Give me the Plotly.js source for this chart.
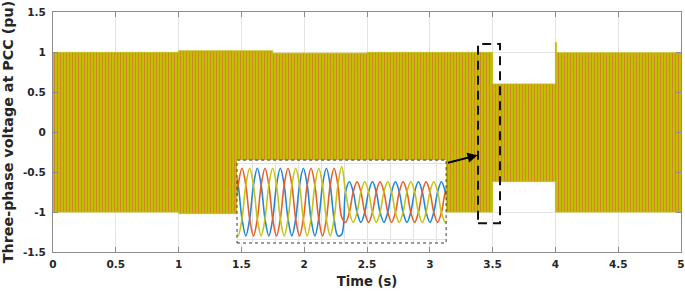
<!DOCTYPE html>
<html>
<head>
<meta charset="utf-8">
<script src="https://cdn.plot.ly/plotly-3.0.1.min.js"></script>
<style>html,body{margin:0;padding:0;background:#fff;}#chart{width:685px;height:295px;}</style>
</head>
<body>
<div id="chart"></div>
<script>
// ---- Main plot: envelope of the three-phase voltage (pu) ----
const envTime  = [0, 1, 1.75, 2.5, 3.5, 4, 4.008, 5];
const envUpper = [0.995, 1.015, 0.985, 0.995, 0.6, 1.12, 0.99, 0.99];
const envLower = [-1.0, -1.02, -0.99, -1.0, -0.62, -1.0, -1.0, -1.0];

// ---- Inset: zoom of the three phases around the sag (electrical angle, deg) ----
const insetAngle = [-120,-60,0,60,120,180,240,300,360,420,480,540,600,660,720,780,840,900,960,1020,1080,1140,1200,1260,1320,1380,1440,1500,1560,1620,1680,1740,1800,1860,1920,1980,2040,2100,2160,2220,2280,2340,2400,2460,2520,2580,2640,2700,2760,2820,2880,2940,3000,3060,3120,3180,3240];
const phaseOrange = [-0.5,0.5,1,0.5,-0.5,-1,-0.5,0.5,1,0.5,-0.5,-1,-0.5,0.5,1,0.5,-0.5,-1,-0.5,0.5,1,0.5,-0.5,-1,-0.5,0.5,1,0.5,-0.45,-0.6,-0.3,0.3,0.6,0.3,-0.3,-0.6,-0.3,0.3,0.6,0.3,-0.3,-0.6,-0.3,0.3,0.6,0.3,-0.3,-0.6,-0.3,0.3,0.6,0.3,-0.3,-0.6,-0.3,0.3,0.6];
const phaseYellow = [-0.5,-1,-0.5,0.5,1,0.5,-0.5,-1,-0.5,0.5,1,0.5,-0.5,-1,-0.5,0.5,1,0.5,-0.5,-1,-0.5,0.5,1,0.5,-0.5,-1,-0.5,0.5,1.05,0.3,-0.3,-0.6,-0.3,0.3,0.6,0.3,-0.3,-0.6,-0.3,0.3,0.6,0.3,-0.3,-0.6,-0.3,0.3,0.6,0.3,-0.3,-0.6,-0.3,0.3,0.6,0.3,-0.3,-0.6,-0.3];
const phaseBlue   = [1,0.5,-0.5,-1,-0.5,0.5,1,0.5,-0.5,-1,-0.5,0.5,1,0.5,-0.5,-1,-0.5,0.5,1,0.5,-0.5,-1,-0.5,0.5,1,0.5,-0.5,-1,-0.95,0.3,0.6,0.3,-0.3,-0.6,-0.3,0.3,0.6,0.3,-0.3,-0.6,-0.3,0.3,0.6,0.3,-0.3,-0.6,-0.3,0.3,0.6,0.3,-0.3,-0.6,-0.3,0.3,0.6,0.3,-0.3];

// Axis tick values
const xTicks = [0, 0.5, 1, 1.5, 2, 2.5, 3, 3.5, 4, 4.5, 5];
const yTicks = [-1.5, -1, -0.5, 0, 0.5, 1, 1.5];

const cOrange = '#e4602a', cYellow = '#c4c412', cBlue = '#2288d6';

const traces = [
  {x: envTime, y: envLower, type: 'scatter', mode: 'lines', line: {shape: 'hv', width: 0.8, color: '#c2bc04'},
   xaxis: 'x', yaxis: 'y', hoverinfo: 'skip'},
  {x: envTime, y: envUpper, type: 'scatter', mode: 'lines', line: {shape: 'hv', width: 0.8, color: '#c2bc04'},
   fill: 'tonexty', fillcolor: '#c2bc04',
   fillpattern: {shape: '|', fgcolor: '#d67c2c', bgcolor: '#c3bd05', size: 3, solidity: 0.28},
   xaxis: 'x', yaxis: 'y', hoverinfo: 'skip'},
  {x: insetAngle, y: phaseBlue, type: 'scatter', mode: 'lines', line: {shape: 'spline', smoothing: 1, width: 1.6, color: cBlue}, xaxis: 'x2', yaxis: 'y2'},
  {x: insetAngle, y: phaseOrange, type: 'scatter', mode: 'lines', line: {shape: 'spline', smoothing: 1, width: 1.6, color: cOrange}, xaxis: 'x2', yaxis: 'y2'},
  {x: insetAngle, y: phaseYellow, type: 'scatter', mode: 'lines', line: {shape: 'spline', smoothing: 1, width: 1.6, color: cYellow}, xaxis: 'x2', yaxis: 'y2'}
];

const tickFont = {family: 'DejaVu Sans', size: 10.5, color: '#262626', weight: 'bold'};
const layout = {
  width: 685, height: 295,
  margin: {l: 53, r: 4, t: 12, b: 43},
  paper_bgcolor: '#ffffff', plot_bgcolor: '#ffffff',
  showlegend: false,
  xaxis: {
    range: [0, 5], tickvals: xTicks, ticktext: xTicks.map(String),
    showgrid: true, gridcolor: '#e4e4e4', gridwidth: 1, zeroline: false,
    showline: true, linecolor: '#8c8c8c', linewidth: 1, mirror: 'ticks',
    ticks: 'inside', ticklen: 5, tickcolor: '#8c8c8c', tickfont: tickFont, ticklabelstandoff: 2,
    title: {text: 'Time (s)', font: {family: 'DejaVu Sans', size: 13.2, color: '#262626', weight: 'bold'}, standoff: 8},
    domain: [0, 1]
  },
  yaxis: {
    range: [-1.5, 1.5], tickvals: yTicks, ticktext: yTicks.map(String),
    showgrid: true, gridcolor: '#e4e4e4', gridwidth: 1, zeroline: false,
    showline: true, linecolor: '#8c8c8c', linewidth: 1, mirror: 'ticks',
    ticks: 'inside', ticklen: 5, tickcolor: '#8c8c8c', tickfont: tickFont, ticklabelstandoff: 4,
    title: {text: 'Three-phase voltage at PCC (pu)', font: {family: 'DejaVu Sans', size: 14.3, color: '#262626', weight: 'bold'}, standoff: 5},
    domain: [0, 1]
  },
  xaxis2: {
    domain: [0.293, 0.626], anchor: 'y2', range: [-78, 3193],
    showticklabels: false, ticks: '', tick0: 157, dtick: 360,
    showgrid: true, gridcolor: '#e2e2e2', zeroline: false, showline: false
  },
  yaxis2: {
    domain: [0.0375, 0.383], anchor: 'x2', range: [-1.21, 1.24],
    showticklabels: false, ticks: '', tickvals: [-1.12, 1.15],
    showgrid: true, gridcolor: '#e2e2e2', zeroline: false, showline: false
  },
  shapes: [
    {type: 'rect', xref: 'x2 domain', yref: 'y2 domain', x0: 0, x1: 1, y0: 0, y1: 1,
     fillcolor: '#ffffff', line: {width: 0}, layer: 'below'},
    {type: 'rect', xref: 'x2 domain', yref: 'y2 domain', x0: 0, x1: 1, y0: 0, y1: 1,
     line: {color: '#3a3a3a', width: 1, dash: 'dot'}, layer: 'above'},
    {type: 'rect', xref: 'x', yref: 'y', x0: 3.384, x1: 3.559, y0: -1.14, y1: 1.10,
     line: {color: '#111111', width: 2, dash: '9px,6px'}, layer: 'above'}
  ],
  annotations: [
    {x: 3.38, y: -0.29, xref: 'x', yref: 'y', ax: -31, ay: 8, text: '', showarrow: true,
     arrowhead: 2, arrowsize: 1, arrowwidth: 2, arrowcolor: '#000000'}
  ]
};

Plotly.newPlot('chart', traces, layout, {staticPlot: true, displayModeBar: false});
</script>
</body>
</html>
